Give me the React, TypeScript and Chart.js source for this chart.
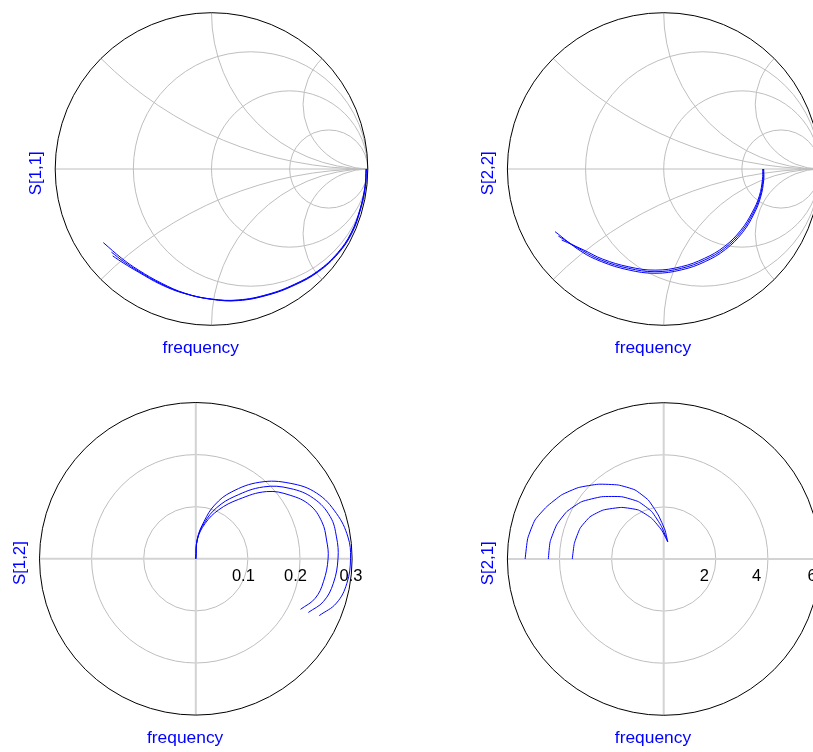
import React, { useEffect, useRef } from "react";
import { Chart, registerables } from "chart.js";

Chart.register(...registerables);

const FONT = '"Liberation Sans", Arial, Helvetica, sans-serif';

// ---------- S[1,1] (Smith chart), three bias conditions ----------
const s11aRe = [0.99, 0.984, 0.952, 0.898, 0.812, 0.684, 0.534, 0.363, 0.171, 0.001, -0.17, -0.319, -0.468, -0.575, -0.692];
const s11aIm = [0.0, -0.113, -0.262, -0.411, -0.539, -0.657, -0.742, -0.806, -0.842, -0.834, -0.795, -0.731, -0.646, -0.571, -0.471];
const s11bRe = [0.99, 0.983, 0.951, 0.896, 0.81, 0.682, 0.532, 0.362, 0.171, 0.001, -0.171, -0.322, -0.47, -0.565, -0.64];
const s11bIm = [0.0, -0.112, -0.26, -0.409, -0.537, -0.655, -0.74, -0.804, -0.84, -0.833, -0.796, -0.735, -0.652, -0.59, -0.532];
const s11cRe = [0.99, 0.982, 0.95, 0.894, 0.808, 0.68, 0.53, 0.36, 0.17, 0.0, -0.172, -0.324, -0.47, -0.56, -0.632];
const s11cIm = [0.0, -0.111, -0.258, -0.407, -0.535, -0.653, -0.738, -0.802, -0.838, -0.832, -0.797, -0.739, -0.658, -0.604, -0.556];

// ---------- S[2,2] (Smith chart) ----------
const s22aRe = [0.64, 0.64, 0.62, 0.577, 0.503, 0.395, 0.266, 0.115, -0.056, -0.228, -0.4, -0.53, -0.695];
const s22aIm = [0.0, -0.07, -0.18, -0.288, -0.408, -0.515, -0.592, -0.645, -0.667, -0.645, -0.592, -0.526, -0.401];
const s22bRe = [0.637, 0.636, 0.616, 0.572, 0.498, 0.391, 0.263, 0.114, -0.056, -0.226, -0.397, -0.52, -0.674];
const s22bIm = [0.0, -0.068, -0.176, -0.282, -0.4, -0.506, -0.582, -0.635, -0.657, -0.635, -0.584, -0.522, -0.429];
const s22cRe = [0.634, 0.632, 0.612, 0.567, 0.493, 0.387, 0.26, 0.113, -0.055, -0.223, -0.392, -0.51, -0.653];
const s22cIm = [0.0, -0.066, -0.172, -0.276, -0.392, -0.497, -0.572, -0.625, -0.647, -0.626, -0.576, -0.519, -0.454];

// ---------- S[1,2] (polar) ----------
const s12aRe = [0, 0.003, 0.016, 0.036, 0.068, 0.123, 0.181, 0.232, 0.27, 0.292, 0.297, 0.29, 0.27, 0.237];
const s12aIm = [0, 0.039, 0.072, 0.103, 0.128, 0.147, 0.145, 0.126, 0.087, 0.042, 0.001, -0.047, -0.085, -0.109];
const s12bRe = [0, 0.003, 0.017, 0.04, 0.075, 0.13, 0.181, 0.226, 0.258, 0.27, 0.273, 0.264, 0.245, 0.216];
const s12bIm = [0, 0.038, 0.07, 0.098, 0.12, 0.138, 0.135, 0.116, 0.081, 0.042, 0.001, -0.047, -0.082, -0.103];
const s12cRe = [0, 0.003, 0.018, 0.044, 0.082, 0.136, 0.181, 0.219, 0.242, 0.251, 0.254, 0.245, 0.229, 0.201];
const s12cIm = [0, 0.037, 0.068, 0.094, 0.114, 0.129, 0.122, 0.103, 0.071, 0.036, 0.001, -0.044, -0.076, -0.097];
const s12Ticks = [0.1, 0.2, 0.3];
const s12TickLabels = ["0.1", "0.2", "0.3"];

// ---------- S[2,1] (polar) ----------
const s21aRe = [-5.32, -5.22, -4.94, -4.49, -3.92, -3.28, -2.51, -1.74, -1.1, -0.59, -0.21, 0.05, 0.154];
const s21aIm = [0.0, 0.79, 1.5, 2.01, 2.46, 2.74, 2.87, 2.84, 2.65, 2.26, 1.69, 1.11, 0.664];
const s21bRe = [-4.43, -4.36, -4.11, -3.72, -3.15, -2.38, -1.61, -0.97, -0.46, -0.08, 0.154];
const s21bIm = [0.0, 0.66, 1.31, 1.82, 2.2, 2.39, 2.39, 2.2, 1.82, 1.24, 0.664];
const s21cRe = [-3.51, -3.43, -3.21, -2.83, -2.32, -1.61, -0.97, -0.46, -0.08, 0.154];
const s21cIm = [0.0, 0.6, 1.18, 1.62, 1.88, 1.98, 1.88, 1.56, 1.11, 0.664];
const s21Ticks = [2, 4, 6];
const s21TickLabels = ["2", "4", "6"];

// Smith chart grid values
const smithR = [1 / 3, 1, 3];
const smithX = [Math.SQRT2 - 1, 1, Math.SQRT2 + 1];

const xLabel = "frequency";

type Curve = { re: number[]; im: number[] };
type Spec = {
  left: number;
  top: number;
  width: number;
  height: number;
  cx: number;
  cy: number;
  R: number;
  kind: "smith" | "polar";
  max: number;
  ticks?: number[];
  tickLabels?: string[];
  ylab: string;
  tension: number;
  curves: Curve[];
};

const RADIUS = 156.3;

const specs: Spec[] = [
  {
    left: 0, top: 0, width: 406, height: 376, cx: 211.5, cy: 169, R: RADIUS,
    kind: "smith", max: 1, ylab: "S[1,1]", tension: 0.4,
    curves: [
      { re: s11aRe, im: s11aIm },
      { re: s11bRe, im: s11bIm },
      { re: s11cRe, im: s11cIm },
    ],
  },
  {
    left: 406, top: 0, width: 430, height: 376, cx: 663.7, cy: 169, R: RADIUS,
    kind: "smith", max: 1, ylab: "S[2,2]", tension: 0.4,
    curves: [
      { re: s22aRe, im: s22aIm },
      { re: s22bRe, im: s22bIm },
      { re: s22cRe, im: s22cIm },
    ],
  },
  {
    left: 0, top: 376, width: 406, height: 376, cx: 195.8, cy: 558.8, R: RADIUS,
    kind: "polar", max: 0.3, ticks: s12Ticks, tickLabels: s12TickLabels, ylab: "S[1,2]", tension: 0.4,
    curves: [
      { re: s12aRe, im: s12aIm },
      { re: s12bRe, im: s12bIm },
      { re: s12cRe, im: s12cIm },
    ],
  },
  {
    left: 406, top: 376, width: 430, height: 376, cx: 663.7, cy: 559, R: RADIUS,
    kind: "polar", max: 6, ticks: s21Ticks, tickLabels: s21TickLabels, ylab: "S[2,1]", tension: 0.15,
    curves: [
      { re: s21aRe, im: s21aIm },
      { re: s21bRe, im: s21bIm },
      { re: s21cRe, im: s21cIm },
    ],
  },
];

function makeGridPlugin(spec: Spec) {
  return {
    id: "rfgrid",
    beforeDatasetsDraw(chart: any) {
      const { ctx, scales } = chart;
      const sx = scales.x;
      const sy = scales.y;
      const px = (v: number) => sx.getPixelForValue(v);
      const py = (v: number) => sy.getPixelForValue(v);
      const unit = px(1) - px(0);
      const ox = px(0);
      const oy = py(0);
      const outer = px(spec.max) - ox;
      ctx.save();
      if (spec.kind === "smith") {
        ctx.beginPath();
        ctx.arc(ox, oy, outer, 0, Math.PI * 2);
        ctx.clip();
        ctx.strokeStyle = "#bebebe";
        ctx.lineWidth = 1;
        for (const r of smithR) {
          ctx.beginPath();
          ctx.arc(px(r / (1 + r)), oy, unit / (1 + r), 0, Math.PI * 2);
          ctx.stroke();
        }
        for (const xv of smithX) {
          for (const s of [1, -1]) {
            ctx.beginPath();
            ctx.arc(px(1), py(s / xv), unit / xv, 0, Math.PI * 2);
            ctx.stroke();
          }
        }
        ctx.beginPath();
        ctx.moveTo(px(-1), oy);
        ctx.lineTo(px(1), oy);
        ctx.stroke();
      } else {
        ctx.strokeStyle = "#bebebe";
        ctx.lineWidth = 1;
        const ticks = spec.ticks || [];
        ticks.forEach((t, i) => {
          if (i === ticks.length - 1) return;
          ctx.beginPath();
          ctx.arc(ox, oy, px(t) - ox, 0, Math.PI * 2);
          ctx.stroke();
        });
        ctx.strokeStyle = "#d3d3d3";
        ctx.lineWidth = 2;
        ctx.beginPath();
        ctx.moveTo(px(-spec.max), oy);
        ctx.lineTo(px(spec.max), oy);
        ctx.moveTo(ox, py(spec.max));
        ctx.lineTo(ox, py(-spec.max));
        ctx.stroke();
      }
      ctx.restore();
      ctx.save();
      ctx.strokeStyle = "#000000";
      ctx.lineWidth = 1;
      ctx.beginPath();
      ctx.arc(ox, oy, outer, 0, Math.PI * 2);
      ctx.stroke();
      ctx.restore();
    },
    afterDraw(chart: any) {
      const { ctx, scales } = chart;
      const sx = scales.x;
      const sy = scales.y;
      const ox = sx.getPixelForValue(0);
      const oy = sy.getPixelForValue(0);
      ctx.save();
      // x label
      ctx.fillStyle = "#0000ff";
      ctx.font = `17.4px ${FONT}`;
      ctx.textAlign = "center";
      ctx.textBaseline = "alphabetic";
      ctx.fillText(xLabel, ox - 10.7, oy + 184.4);
      // y label (rotated)
      ctx.save();
      ctx.translate(ox - 171, oy + 4.3);
      ctx.rotate(-Math.PI / 2);
      ctx.font = `16.8px ${FONT}`;
      ctx.fillText(spec.ylab, 0, 0);
      ctx.restore();
      // radial tick labels
      if (spec.kind === "polar" && spec.ticks && spec.tickLabels) {
        ctx.fillStyle = "#000000";
        ctx.font = `16.5px ${FONT}`;
        ctx.textAlign = "left";
        const n = spec.ticks.length;
        spec.ticks.forEach((t, i) => {
          const shift = i === n - 1 ? -12.5 : -16;
          ctx.fillText(spec.tickLabels![i], sx.getPixelForValue(t) + shift, oy + 22);
        });
      }
      ctx.restore();
    },
  };
}

function Panel({ spec }: { spec: Spec }) {
  const ref = useRef<HTMLCanvasElement | null>(null);
  useEffect(() => {
    const canvas = ref.current;
    if (!canvas) return;
    const padding = {
      left: spec.cx - spec.R - spec.left,
      top: spec.cy - spec.R - spec.top,
      right: spec.left + spec.width - (spec.cx + spec.R),
      bottom: spec.top + spec.height - (spec.cy + spec.R),
    };
    const chart = new Chart(canvas, {
      type: "scatter",
      data: {
        datasets: spec.curves.map((c, k) => ({
          label: `${spec.ylab} ${k + 1}`,
          data: c.re.map((x, i) => ({ x, y: c.im[i] })),
          showLine: true,
          borderColor: "#0000ff",
          backgroundColor: "#0000ff",
          borderWidth: 1,
          pointRadius: 0,
          pointHoverRadius: 0,
          tension: spec.tension,
          fill: false,
          clip: false,
        })),
      },
      options: {
        responsive: false,
        maintainAspectRatio: false,
        animation: false,
        devicePixelRatio: 1,
        events: [],
        layout: { padding },
        plugins: {
          legend: { display: false },
          tooltip: { enabled: false },
          title: { display: false },
        },
        scales: {
          x: { type: "linear", display: false, min: -spec.max, max: spec.max },
          y: { type: "linear", display: false, min: -spec.max, max: spec.max },
        },
      },
      plugins: [makeGridPlugin(spec)],
    } as any);
    return () => chart.destroy();
  }, [spec]);
  return (
    <canvas
      ref={ref}
      width={spec.width}
      height={spec.height}
      style={{
        position: "absolute",
        left: spec.left,
        top: spec.top,
        width: spec.width,
        height: spec.height,
      }}
    />
  );
}

export default function App() {
  return (
    <div
      style={{
        position: "fixed",
        left: 0,
        top: 0,
        width: 813,
        height: 752,
        overflow: "hidden",
        background: "#ffffff",
      }}
    >
      {specs.map((s, i) => (
        <Panel key={i} spec={s} />
      ))}
    </div>
  );
}
